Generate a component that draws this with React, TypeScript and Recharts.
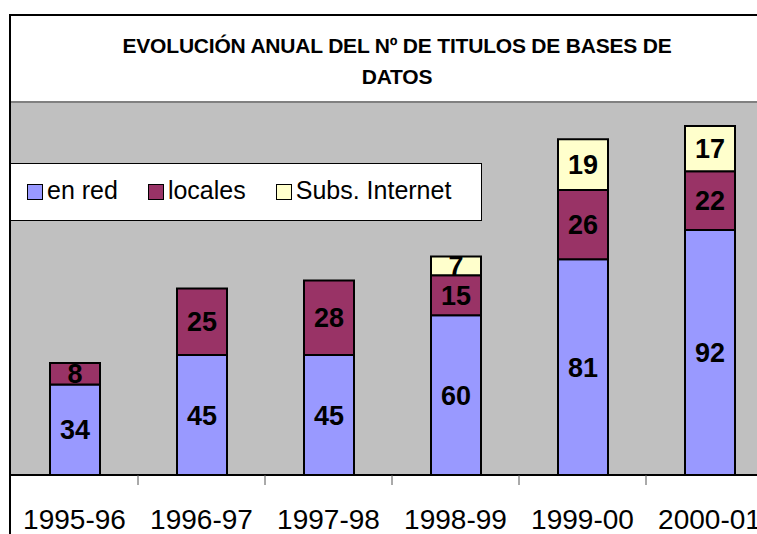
import React from "react";
import { Bar, BarChart, CartesianGrid, LabelList, ReferenceLine, XAxis, YAxis } from "recharts";

const years = ["1995-96", "1996-97", "1997-98", "1998-99", "1999-00", "2000-01"];
const enRed = [34, 45, 45, 60, 81, 92];
const locales = [8, 25, 28, 15, 26, 22];
const subsInternet = [null, null, null, 7, 19, 17];

const SERIES = [
  { key: "enRed", name: "en red", color: "#9999FF" },
  { key: "locales", name: "locales", color: "#993366" },
  { key: "subs", name: "Subs. Internet", color: "#FFFFCC" },
];

const data = years.map((y, i) => ({
  year: y,
  enRed: enRed[i],
  locales: locales[i],
  subs: subsInternet[i],
}));

const FONT = "'Liberation Sans', Arial, sans-serif";

function YearTick(props: any) {
  const { x, y, payload } = props;
  const half = payload?.offset ?? 63.5;
  return (
    <g>
      <line x1={x + half} y1={y - 8} x2={x + half} y2={y + 2} stroke="#555" strokeWidth={1} />
      <text x={x} y={y + 46} textAnchor="middle" fontFamily={FONT} fontSize={28} fill="#000">
        {payload.value}
      </text>
    </g>
  );
}

function LegendBox() {
  return (
    <div
      style={{
        position: "absolute",
        left: 10,
        top: 163,
        width: 472,
        height: 58,
        background: "#fff",
        border: "1px solid #000",
        boxSizing: "border-box",
        display: "flex",
        alignItems: "center",
        paddingLeft: 16,
        paddingBottom: 4,
        fontFamily: FONT,
        fontSize: 25,
        color: "#000",
        whiteSpace: "nowrap",
      }}
    >
      {SERIES.map((s) => (
        <div
          key={s.key}
          style={{ display: "flex", alignItems: "center", marginRight: 30, flexShrink: 0 }}
        >
          <span
            style={{
              display: "inline-block",
              width: 14,
              height: 14,
              background: s.color,
              border: "1.5px solid #000",
              marginRight: 4,
              marginTop: 4,
              flexShrink: 0,
            }}
          />
          <span>{s.name}</span>
        </div>
      ))}
    </div>
  );
}

export default function App() {
  return (
    <div
      style={{
        position: "absolute",
        left: 0,
        top: 0,
        width: 757,
        height: 534,
        overflow: "hidden",
        background: "#fff",
      }}
    >
      <div style={{ position: "absolute", left: 0, top: 0 }}>
        <BarChart
          width={800}
          height={534}
          data={data}
          margin={{ top: 102, right: 27, bottom: 0, left: 11 }}
          barSize={50}
        >
          <CartesianGrid fill="#C0C0C0" horizontal={false} vertical={false} />
          <YAxis hide domain={[0, 140]} />
          <XAxis
            dataKey="year"
            height={59}
            axisLine={{ stroke: "#000", strokeWidth: 2 }}
            tickLine={false}
            interval={0}
            tick={<YearTick />}
          />
          <ReferenceLine y={140} stroke="#808080" strokeWidth={2} />
          {SERIES.map((s) => (
            <Bar
              key={s.key}
              dataKey={s.key}
              name={s.name}
              stackId="a"
              fill={s.color}
              stroke="#000"
              strokeWidth={2}
              isAnimationActive={false}
            >
              <LabelList
                dataKey={s.key}
                position="center"
                fill="#000"
                fontFamily={FONT}
                fontWeight="bold"
                fontSize={27}
              />
            </Bar>
          ))}
        </BarChart>
      </div>
      <LegendBox />
      <div
        style={{
          position: "absolute",
          left: 9,
          top: 14,
          width: 800,
          height: 600,
          borderTop: "2px solid #000",
          borderLeft: "2px solid #000",
          pointerEvents: "none",
        }}
      />
      <div
        style={{
          position: "absolute",
          left: 0,
          top: 30,
          width: 794,
          textAlign: "center",
          fontFamily: FONT,
          fontWeight: "bold",
          fontSize: 21,
          letterSpacing: -0.2,
          lineHeight: "31px",
          color: "#000",
        }}
      >
        EVOLUCIÓN ANUAL DEL Nº DE TITULOS DE BASES DE
        <br />
        DATOS
      </div>
    </div>
  );
}
